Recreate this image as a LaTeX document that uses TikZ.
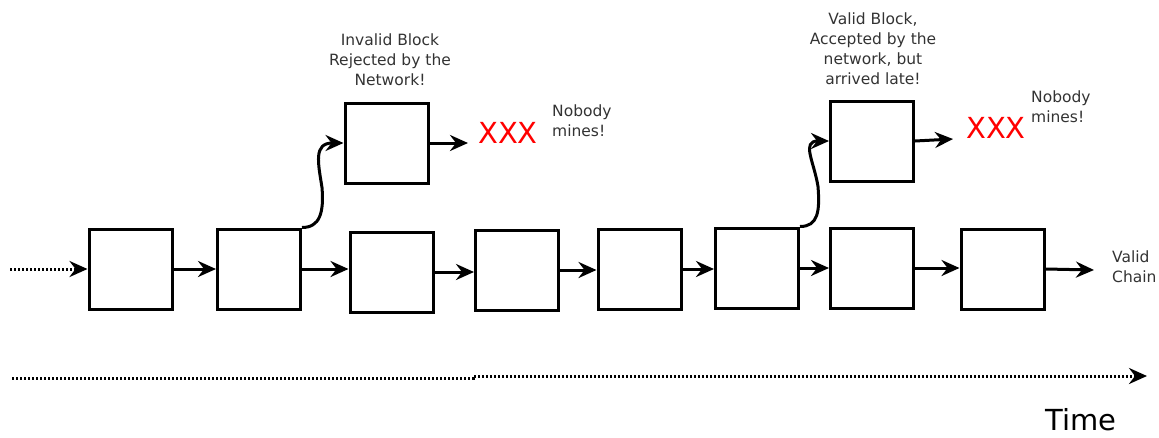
\documentclass[tikz,border=0pt]{standalone}
\usepackage{fontspec}
\setmainfont{DejaVu Sans}
\usetikzlibrary{arrows.meta}
\begin{document}
\begin{tikzpicture}[x=1pt,y=-1pt,
  blk/.style={draw, line width=3pt, minimum width=83pt, minimum height=80pt, inner sep=0pt},
  arr/.style={line width=3pt, -{Stealth[length=18pt,width=16pt,inset=6pt]}},
  dotarr/.style={line width=3pt, dash pattern=on 2pt off 2pt, -{Stealth[length=18pt,width=16pt,inset=6pt]}},
  note/.style={align=center, text=black!80, font=\fontsize{15.5}{20}\selectfont, inner sep=0pt},
  cross/.style={text=red, font=\fontsize{29}{30}\selectfont, inner sep=0pt},
  big/.style={font=\fontsize{29}{30}\selectfont, inner sep=0pt}]
\useasboundingbox (0,0) rectangle (1159,437);

% main chain
\node[blk] (b1) at (130.5,269) {};
\node[blk] (b2) at (259,269) {};
\node[blk] (b3) at (391.5,272) {};
\node[blk] (b4) at (517,270) {};
\node[blk] (b5) at (639.5,269) {};
\node[blk] (b6) at (757,268) {};
\node[blk] (b7) at (872,268) {};
\node[blk] (b8) at (1002.5,269) {};

% orphaned blocks
\node[blk] (u1) at (386.5,143) {};
\node[blk] (u2) at (872,141) {};

\coordinate (in) at (10,269);
\coordinate (out) at (1094,270);
\coordinate (x1) at (468,143);
\coordinate (x2) at (953,139);

\draw[dotarr] (in) -- (b1.west);
\draw[arr] (b1.east) -- (b1.east -| b2.west);
\draw[arr] (b2.east) -- (b2.east -| b3.west);
\draw[arr] (b3.east) -- (b3.east -| b4.west);
\draw[arr] (b4.east) -- (b4.east -| b5.west);
\draw[arr] (b5.east) -- (b5.east -| b6.west);
\draw[arr] (b6.east) -- (b6.east -| b7.west);
\draw[arr] (b7.east) -- (b7.east -| b8.west);
\draw[arr] (b8.east) -- (out);

% forks
\draw[arr] (b2.north east) .. controls ++(18,0) and ++(2,25) .. ++(20,-40)
  .. controls ++(-4,-25) and ++(-30,0) .. (u1.west);
\draw[arr] (b6.north east) .. controls ++(18,0) and ++(2,25) .. ++(18,-40)
  .. controls ++(-4,-25) and ++(-28,0) .. (u2.west);
\draw[arr] (u1.east) -- (x1);
\draw[arr] (u2.east) -- (x2);

% labels
\node[note] (l1) at (390,60) {Invalid Block\\Rejected by the\\Network!};
\node[note] (l2) at (873,49) {Valid Block,\\Accepted by the\\network, but\\arrived late!};
\node[cross] (c1) at (508,133) {XXX};
\node[cross] (c2) at (996,128) {XXX};
\node[note, align=left, anchor=west] (n1) at (552,121) {Nobody\\mines!};
\node[note, align=left, anchor=west] (n2) at (1031,107) {Nobody\\mines!};
\node[note, align=left, anchor=west] (vc) at (1112,267) {Valid\\Chain};

% time axis
\coordinate (t0) at (12,378);
\coordinate (tm) at (473,377);
\coordinate (t1) at (1147,376);
\draw[dotarr] (t0) -- (tm |- t0) -- (tm |- t1) -- (t1);
\node[big] (time) at (1081,420) {Time};
\end{tikzpicture}
\end{document}
